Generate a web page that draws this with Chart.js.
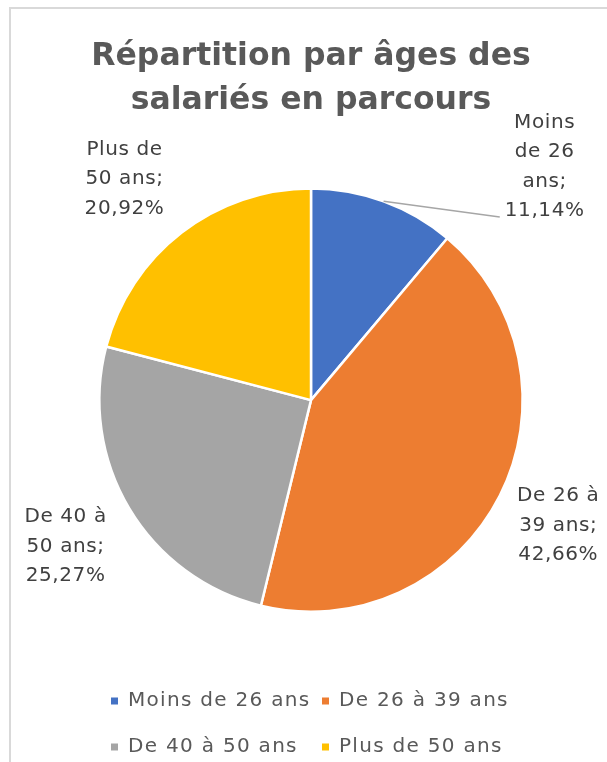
<!DOCTYPE html>
<html>
<head>
<meta charset="utf-8">
<script src="https://cdn.jsdelivr.net/npm/chart.js@4.4.1/dist/chart.umd.min.js"></script>
<style>
  html, body { margin: 0; padding: 0; background: #ffffff; overflow: hidden; }
  canvas { display: block; }
</style>
</head>
<body>
<canvas id="c" width="607" height="762"></canvas>
<script>
// ---- data ----
const titleLines = ["Répartition par âges des", "salariés en parcours"];
const categories = ["Moins de 26 ans", "De 26 à 39 ans", "De 40 à 50 ans", "Plus de 50 ans"];
const shares = [11.14, 42.66, 25.27, 20.92];
const sliceColors = ["#4472C4", "#ED7D31", "#A5A5A5", "#FFC000"];

const FONT = "'DejaVu Sans', sans-serif";

function fmtPct(v) {
  return v.toFixed(2).replace('.', ',') + '%';
}

function wrapWords(ctx, text, maxW) {
  const words = text.split(' ');
  const lines = [];
  let cur = '';
  for (const w of words) {
    const test = cur ? cur + ' ' + w : w;
    if (cur && ctx.measureText(test).width > maxW) {
      lines.push(cur);
      cur = w;
    } else {
      cur = test;
    }
  }
  if (cur) lines.push(cur);
  return lines;
}

const frame = {
  id: 'frame',
  beforeDraw(chart, args, opts) {
    const ctx = chart.ctx;
    ctx.save();
    ctx.strokeStyle = opts.color;
    ctx.lineWidth = opts.width;
    ctx.beginPath();
    ctx.moveTo(opts.x, chart.height + 5);
    ctx.lineTo(opts.x, opts.y);
    ctx.lineTo(chart.width + 5, opts.y);
    ctx.stroke();
    ctx.restore();
  }
};

const outsideLabels = {
  id: 'outsideLabels',
  afterDatasetsDraw(chart, args, opts) {
    const ctx = chart.ctx;
    const meta = chart.getDatasetMeta(0);
    const ds = chart.data.datasets[0];
    ctx.save();
    ctx.font = opts.size + 'px ' + FONT;
    ctx.letterSpacing = opts.spacing + 'px';
    ctx.fillStyle = opts.color;
    ctx.textAlign = 'center';
    ctx.textBaseline = 'middle';
    meta.data.forEach((arc, i) => {
      const p = arc.getProps(['x', 'y', 'startAngle', 'endAngle', 'outerRadius'], true);
      const mid = (p.startAngle + p.endAngle) / 2;
      const place = opts.placement[i];
      const a = mid + place.shift * Math.PI / 180;
      const cx = p.x + Math.cos(a) * p.outerRadius * place.dist;
      const cy = p.y + Math.sin(a) * p.outerRadius * place.dist;
      const text = chart.data.labels[i] + '; ' + fmtPct(ds.data[i]);
      const lines = wrapWords(ctx, text, place.wrap);
      const lh = opts.lineHeight;
      const y0 = cy - (lines.length - 1) * lh / 2;
      lines.forEach((ln, k) => ctx.fillText(ln, cx, y0 + k * lh));
      if (place.leader) {
        const last = lines[lines.length - 1];
        const lw = ctx.measureText(last).width;
        const ex = cx - lw / 2 - 5;
        const ey = y0 + (lines.length - 1) * lh + 6;
        const sx = p.x + Math.cos(mid) * p.outerRadius;
        const sy = p.y + Math.sin(mid) * p.outerRadius;
        ctx.beginPath();
        ctx.strokeStyle = '#A6A6A6';
        ctx.lineWidth = 1.5;
        ctx.moveTo(sx, sy);
        ctx.lineTo(ex, ey);
        ctx.stroke();
      }
    });
    ctx.restore();
  }
};

const gridLegend = {
  id: 'gridLegend',
  afterDraw(chart, args, opts) {
    const ctx = chart.ctx;
    const ds = chart.data.datasets[0];
    ctx.save();
    ctx.font = opts.size + 'px ' + FONT;
    ctx.letterSpacing = opts.spacing + 'px';
    ctx.textAlign = 'left';
    ctx.textBaseline = 'middle';
    chart.data.labels.forEach((lab, i) => {
      const col = i % 2, row = Math.floor(i / 2);
      const bx = opts.colX[col];
      const by = opts.rowY[row];
      ctx.fillStyle = ds.backgroundColor[i];
      ctx.fillRect(bx, by - opts.box / 2, opts.box, opts.box);
      ctx.fillStyle = opts.color;
      ctx.fillText(lab, bx + opts.box + opts.gap, by);
    });
    ctx.restore();
  }
};

new Chart(document.getElementById('c'), {
  type: 'pie',
  data: {
    labels: categories,
    datasets: [{
      data: shares,
      backgroundColor: sliceColors,
      borderColor: '#ffffff',
      borderWidth: 2.5,
      hoverOffset: 0
    }]
  },
  options: {
    responsive: false,
    animation: false,
    layout: { padding: { top: 0, bottom: 149, left: 15, right: 0 } },
    plugins: {
      legend: { display: false },
      tooltip: { enabled: false },
      title: {
        display: true,
        text: titleLines,
        color: '#595959',
        font: { family: FONT, size: 31.5, weight: 'bold', lineHeight: 1.4 },
        padding: { top: 35, bottom: 64 }
      },
      frame: { x: 10, y: 8, width: 2, color: '#D9D9D9' },
      outsideLabels: {
        size: 20, spacing: 0.6, color: '#404040', lineHeight: 29.5,
        placement: [
          { dist: 1.56, shift: 25, wrap: 80, leader: true },
          { dist: 1.31, shift: 0, wrap: 100 },
          { dist: 1.35, shift: 0, wrap: 100 },
          { dist: 1.366, shift: -2.5, wrap: 95 }
        ]
      },
      gridLegend: {
        size: 20, spacing: 1.3, color: '#595959', box: 7, gap: 10,
        colX: [111, 322], rowY: [701, 747]
      }
    }
  },
  plugins: [frame, outsideLabels, gridLegend]
});
</script>
</body>
</html>
